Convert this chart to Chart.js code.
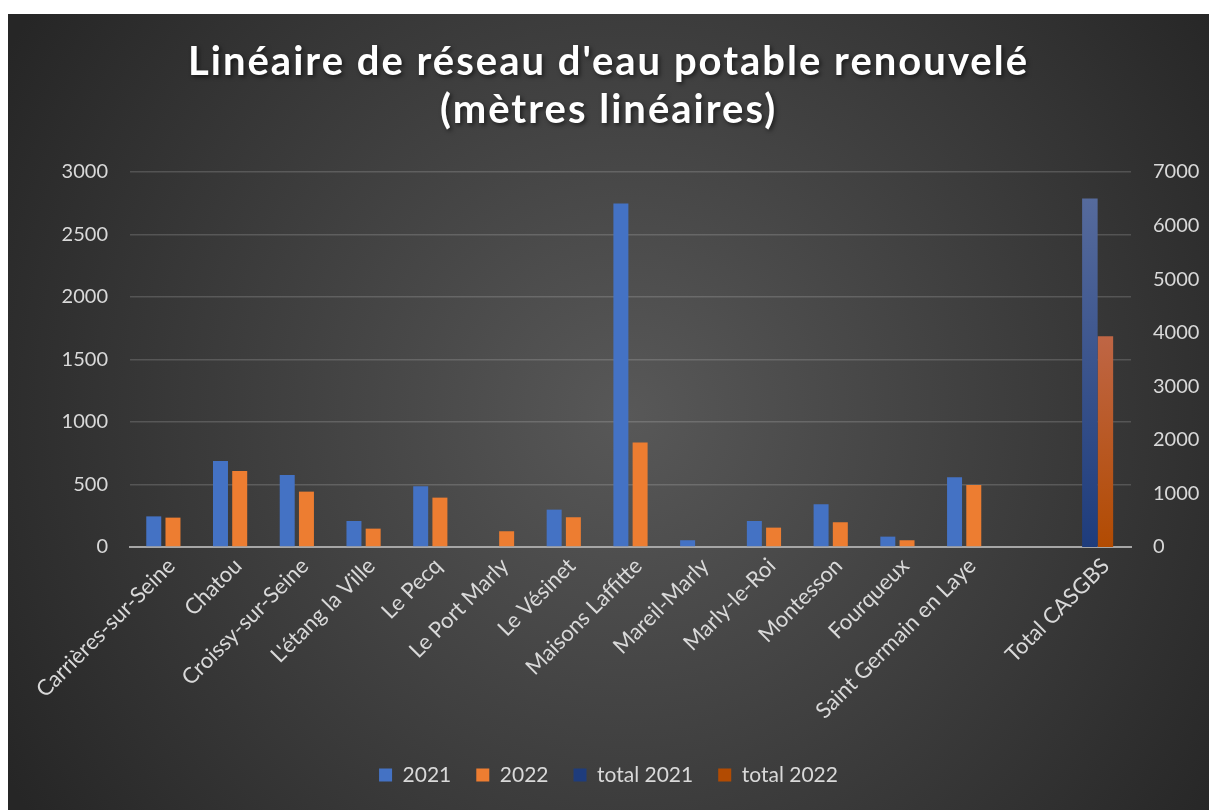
<!DOCTYPE html>
<html>
<head>
<meta charset="utf-8">
<script src="https://cdn.jsdelivr.net/npm/chart.js@4.4.0/dist/chart.umd.min.js"></script>
<style>
  body { margin: 0; background: #fff; }
  #wrap { position: absolute; left: 8px; top: 14px; width: 1201px; height: 796px; }
</style>
</head>
<body>
<div id="wrap"><canvas id="chart"></canvas></div>
<script>
const categories = [
  "Carrières-sur-Seine", "Chatou", "Croissy-sur-Seine", "L'étang la Ville", "Le Pecq",
  "Le Port Marly", "Le Vésinet", "Maisons Laffitte", "Mareil-Marly", "Marly-le-Roi",
  "Montesson", "Fourqueux", "Saint Germain en Laye", "", "Total CASGBS"
];
const values2021 = [245, 689, 576, 208, 486, 0, 299, 2749, 54, 208, 342, 83, 558, null, null];
const values2022 = [235, 608, 443, 147, 395, 126, 238, 836, 0, 155, 198, 54, 496, null, null];
const total2021 = [null, null, null, null, null, null, null, null, null, null, null, null, null, null, 6504];
const total2022 = [null, null, null, null, null, null, null, null, null, null, null, null, null, null, 3933];
const leftTicks = [0, 500, 1000, 1500, 2000, 2500, 3000];
const rightTicks = [0, 1000, 2000, 3000, 4000, 5000, 6000, 7000];

const tickColor = "#d9d9d9";
const font = "Lato";

// dark radial background, plus spacing and shadow on the title
const background = {
  id: "background",
  beforeDraw(chart) {
    const { ctx, width, height } = chart;
    const g = ctx.createRadialGradient(620, 400, 0, 620, 400, 720);
    g.addColorStop(0, "#585858");
    g.addColorStop(1, "#262626");
    ctx.save();
    ctx.fillStyle = g;
    ctx.fillRect(0, 0, width, height);
    ctx.restore();

    const tb = chart.titleBlock;
    if (tb && !tb._spaced) {
      const orig = tb.draw;
      tb.draw = function () {
        const c = this.ctx;
        c.save();
        c.letterSpacing = "2px";
        c.shadowColor = "rgba(0,0,0,0.55)";
        c.shadowBlur = 4;
        c.shadowOffsetX = 2;
        c.shadowOffsetY = 2;
        orig.call(this);
        c.restore();
      };
      tb._spaced = true;
    }
  }
};

function vertical(stops, fallback) {
  return (c) => {
    const { chart } = c;
    const area = chart.chartArea;
    if (!area) return fallback;
    const g = chart.ctx.createLinearGradient(0, area.top, 0, area.bottom);
    stops.forEach(([p, col]) => g.addColorStop(p, col));
    return g;
  };
}

new Chart(document.getElementById("chart"), {
  type: "bar",
  data: {
    labels: categories,
    datasets: [
      {
        label: "2021", data: values2021, yAxisID: "y",
        backgroundColor: "#4472C4", skipNull: true,
        categoryPercentage: 0.576, barPercentage: 0.78
      },
      {
        label: "2022", data: values2022, yAxisID: "y",
        backgroundColor: "#ED7D31", skipNull: true,
        categoryPercentage: 0.576, barPercentage: 0.78
      },
      {
        label: "total 2021", data: total2021, yAxisID: "y2",
        backgroundColor: vertical([[0, "#5a6e9f"], [1, "#1e3c7c"]], "#264478"),
        skipNull: true, categoryPercentage: 0.465, barPercentage: 1
      },
      {
        label: "total 2022", data: total2022, yAxisID: "y2",
        backgroundColor: vertical([[0, "#c06a4c"], [0.43, "#bf6646"], [1, "#b24b02"]], "#c55a11"),
        skipNull: true, categoryPercentage: 0.465, barPercentage: 1
      }
    ]
  },
  options: {
    responsive: true,
    maintainAspectRatio: false,
    animation: false,
    layout: { padding: { left: 0, right: 0, top: 0, bottom: 14.5 } },
    scales: {
      x: {
        grid: { display: false, drawTicks: false },
        border: { display: true, color: "#a6a6a6", width: 2 },
        ticks: {
          color: tickColor, font: { family: font, size: 22 },
          minRotation: 45, maxRotation: 45, autoSkip: false, padding: 6, labelOffset: 8
        },
        afterFit(scale) { scale.height = 192.5; }
      },
      y: {
        position: "left", min: 0, max: 3000,
        afterBuildTicks(scale) { scale.ticks = leftTicks.map((v) => ({ value: v })); },
        grid: { color: "rgba(255,255,255,0.16)", lineWidth: 1.5, drawTicks: false },
        border: { display: false },
        ticks: { color: tickColor, font: { family: font, size: 20 }, padding: 22, callback: (v) => String(v) },
        afterFit(scale) { scale.width = 122; }
      },
      y2: {
        position: "right", min: 0, max: 7000,
        afterBuildTicks(scale) { scale.ticks = rightTicks.map((v) => ({ value: v })); },
        grid: { display: false, drawTicks: false },
        border: { display: false },
        ticks: { color: tickColor, font: { family: font, size: 20 }, padding: 22, callback: (v) => String(v) },
        afterFit(scale) { scale.width = 78; }
      }
    },
    plugins: {
      title: {
        display: true,
        text: ["Linéaire de réseau d'eau potable renouvelé", "(mètres linéaires)"],
        color: "#ffffff",
        font: { family: font, size: 40, weight: "bold", lineHeight: 1.2 },
        padding: { top: 24, bottom: 38 }
      },
      legend: {
        position: "bottom",
        labels: {
          color: tickColor, font: { family: font, size: 21 },
          boxWidth: 13, boxHeight: 13, padding: 25
        }
      },
      tooltip: { enabled: false }
    }
  },
  plugins: [background]
});
</script>
</body>
</html>
